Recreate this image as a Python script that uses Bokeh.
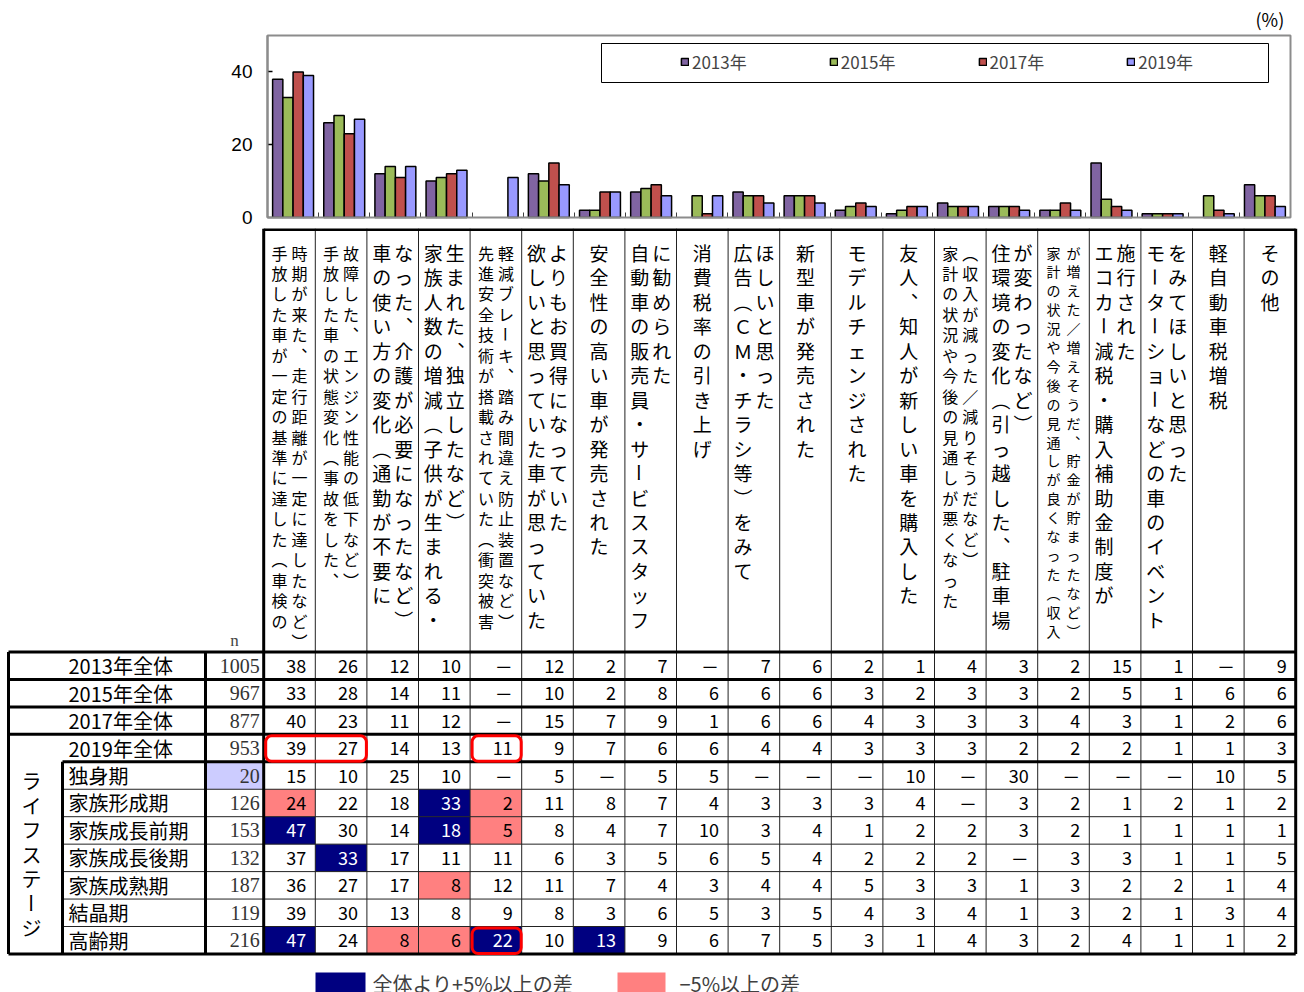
import math
from bokeh.plotting import figure
from bokeh.models import Range1d, FixedTicker, Legend, LegendItem, BoxAnnotation, Label
from bokeh.layouts import column
from bokeh.core.properties import value
from bokeh.embed import file_html
from bokeh.resources import INLINE

JP = "Noto Sans CJK JP"
SERIF = "Liberation Serif"
SANS = "Liberation Sans"

# ---------------- data ----------------
years = ["2013年", "2015年", "2017年", "2019年"]
year_colors = ["#8064A2", "#9BBB59", "#C0504D", "#9999FF"]

cat_lines = [
    ["手放した車が一定の基準に達した（車検の", "時期が来た、走行距離が一定に達したなど）"],
    ["手放した車の状態変化（事故をした、", "故障した、エンジン性能の低下など）"],
    ["車の使い方の変化（通勤が不要に", "なった、介護が必要になったなど）"],
    ["家族人数の増減（子供が生まれる・", "生まれた、独立したなど）"],
    ["先進安全技術が搭載されていた（衝突被害", "軽減ブレーキ、踏み間違え防止装置など）"],
    ["欲しいと思っていた車が思っていた", "よりもお買得になっていた"],
    ["安全性の高い車が発売された"],
    ["自動車の販売員・サービススタッフ", "に勧められた"],
    ["消費税率の引き上げ"],
    ["広告（ＣＭ・チラシ等）をみて", "ほしいと思った"],
    ["新型車が発売された"],
    ["モデルチェンジされた"],
    ["友人、知人が新しい車を購入した"],
    ["家計の状況や今後の見通しが悪くなった", "（収入が減った／減りそうだなど）"],
    ["住環境の変化（引っ越した、駐車場", "が変わったなど）"],
    ["家計の状況や今後の見通しが良くなった（収入", "が増えた／増えそうだ、貯金が貯まったなど）"],
    ["エコカー減税・購入補助金制度が", "施行された"],
    ["モーターショーなどの車のイベント", "をみてほしいと思った"],
    ["軽自動車税増税"],
    ["その他"],
]

v2013 = [38, 26, 12, 10, None, 12, 2, 7, None, 7, 6, 2, 1, 4, 3, 2, 15, 1, None, 9]
v2015 = [33, 28, 14, 11, None, 10, 2, 8, 6, 6, 6, 3, 2, 3, 3, 2, 5, 1, 6, 6]
v2017 = [40, 23, 11, 12, None, 15, 7, 9, 1, 6, 6, 4, 3, 3, 3, 4, 3, 1, 2, 6]
v2019 = [39, 27, 14, 13, 11, 9, 7, 6, 6, 4, 4, 3, 3, 3, 2, 2, 2, 1, 1, 3]

tanshin = [15, 10, 25, 10, None, 5, None, 5, 5, None, None, None, 10, None, 30, None, None, None, 10, 5]
keisei = [24, 22, 18, 33, 2, 11, 8, 7, 4, 3, 3, 3, 4, None, 3, 2, 1, 2, 1, 2]
zenki = [47, 30, 14, 18, 5, 8, 4, 7, 10, 3, 4, 1, 2, 2, 3, 2, 1, 1, 1, 1]
kouki = [37, 33, 17, 11, 11, 6, 3, 5, 6, 5, 4, 2, 2, 2, None, 3, 3, 1, 1, 5]
jukuki = [36, 27, 17, 8, 12, 11, 7, 4, 3, 4, 4, 5, 3, 3, 1, 3, 2, 2, 1, 4]
kesshou = [39, 30, 13, 8, 9, 8, 3, 6, 5, 3, 5, 4, 3, 4, 1, 3, 2, 1, 3, 4]
koureiki = [47, 24, 8, 6, 22, 10, 13, 9, 6, 7, 5, 3, 1, 4, 3, 2, 4, 1, 1, 2]

row_labels = ["2013年全体", "2015年全体", "2017年全体", "2019年全体",
              "独身期", "家族形成期", "家族成長前期", "家族成長後期", "家族成熟期", "結晶期", "高齢期"]
row_n = [1005, 967, 877, 953, 20, 126, 153, 132, 187, 119, 216]
row_values = [v2013, v2015, v2017, v2019, tanshin, keisei, zenki, kouki, jukuki, kesshou, koureiki]

stage_title = "ライフステージ"

# significance marks: (row, column, "+" above / "-" below overall)
highlights = [("家族形成期", 0, "-"), ("家族形成期", 3, "+"), ("家族形成期", 4, "-"),
              ("家族成長前期", 0, "+"), ("家族成長前期", 3, "+"), ("家族成長前期", 4, "-"),
              ("家族成長後期", 1, "+"), ("家族成熟期", 3, "-"),
              ("高齢期", 0, "+"), ("高齢期", 2, "-"), ("高齢期", 3, "-"), ("高齢期", 4, "+"), ("高齢期", 6, "+")]
small_sample = ["独身期"]
emphasis = [("2019年全体", 0, 2), ("2019年全体", 4, 1), ("高齢期", 4, 1)]

legend_plus = "全体より+5%以上の差"
legend_minus = "−5%以上の差"
y_ticks = [0, 20, 40]

# ---------------- styles ----------------
cat_style = ["S", "S", "L", "L", "S", "L", "L", "L", "L", "L",
             "L", "L", "L", "S", "L", "XS", "L", "L", "L", "L"]
style_spec = {"L": (19, 24.45, 11), "S": (16, 20.45, 10), "XS": (14, 18.9, 10)}
NAVY = "#000080"
PINK = "#FF8080"
LAVENDER = "#CCCCFF"

W = 1300
TOP_H = 228

# ---------------- chart ----------------
FL, FR, FT, FB = 267, 1290, 35, 217
NCAT = len(cat_lines)
YMAX = 50


def fx(px):
    return (px - FL) / (FR - FL) * NCAT


def fy(py):
    return (FB - py) / (FB - FT) * YMAX


p1 = figure(width=W, height=TOP_H, x_range=Range1d(fx(0), fx(W)), y_range=Range1d(fy(TOP_H), fy(0)),
            output_backend="svg", toolbar_location=None, min_border=0)
p1.xgrid.visible = False
p1.ygrid.visible = False
p1.outline_line_color = None
p1.background_fill_color = "white"
p1.border_fill_color = "white"

p1.yaxis.fixed_location = 0
p1.yaxis.bounds = (0, YMAX)
p1.yaxis.ticker = FixedTicker(ticks=y_ticks)
p1.yaxis.major_tick_in = 5
p1.yaxis.major_tick_out = 0
p1.yaxis.minor_tick_line_color = None
p1.yaxis.axis_line_color = "black"
p1.yaxis.axis_line_width = 1.5
p1.yaxis.major_tick_line_width = 1.5
p1.yaxis.major_label_text_font = SANS
p1.yaxis.major_label_text_font_size = "19px"
p1.yaxis.major_label_text_color = "black"
p1.yaxis.major_label_standoff = 15

p1.xaxis.fixed_location = 0
p1.xaxis.bounds = (0, NCAT)
p1.xaxis.ticker = FixedTicker(ticks=list(range(1, NCAT)))
p1.xaxis.major_label_overrides = {i: "" for i in range(1, NCAT)}
p1.xaxis.major_tick_in = 5
p1.xaxis.major_tick_out = 0
p1.xaxis.minor_tick_line_color = None
p1.xaxis.axis_line_color = "#404040"
p1.xaxis.major_tick_line_color = "#404040"

renderers = []
for k, (vals, col) in enumerate(zip([v2013, v2015, v2017, v2019], year_colors)):
    xs = [i + 0.2 * (k + 1) for i, v in enumerate(vals) if v is not None]
    tops = [v for v in vals if v is not None]
    r = p1.vbar(x=xs, top=tops, width=0.2, fill_color=col, line_color="black", line_width=1.5)
    renderers.append(r)

# chart frame (grey)
p1.add_layout(BoxAnnotation(left=0, right=NCAT, bottom=0, top=YMAX, fill_alpha=0,
                            line_color="#8C8C8C", line_width=2, line_alpha=1))

legend_box = BoxAnnotation(left=fx(601), right=fx(1268), top=fy(43), bottom=fy(82),
                           fill_alpha=0, line_color="black", line_width=1, line_alpha=1)
p1.add_layout(legend_box)

legend = Legend(items=[LegendItem(label=y, renderers=[r]) for y, r in zip(years, renderers)],
                orientation="horizontal", location=(680, TOP_H - 74), padding=0, margin=0,
                spacing=82, glyph_width=9, glyph_height=9, label_standoff=3,
                label_text_font=JP, label_text_font_size="17px", label_height=9,
                border_line_alpha=0, background_fill_alpha=0)
p1.add_layout(legend)

p1.add_layout(Label(x=fx(1255), y=fy(18), text="(%)", text_font=JP, text_font_size="18px",
                    text_baseline="middle", text_align="left", text_color="black"))

# ---------------- table ----------------
COL0, COL_W = 263.2, 51.6
R0, ROW_H = 651.5, 27.45
NLEFT, STLEFT, OUTL = 205, 62, 8
HEAD_TOP = TOP_H
BOTTOM = 992
NROW = len(row_labels)
cols = [COL0 + COL_W * j for j in range(NCAT + 1)]
rows = [R0 + ROW_H * i for i in range(NROW + 1)]
RIGHT = cols[-1]

p2 = figure(width=W, height=BOTTOM - HEAD_TOP, x_range=Range1d(0, W), y_range=Range1d(BOTTOM, HEAD_TOP),
            x_axis_location=None, y_axis_location=None, min_border=0,
            output_backend="svg", toolbar_location=None)
p2.outline_line_color = None
p2.grid.visible = False
p2.background_fill_color = "white"
p2.border_fill_color = "white"

# cell fills
fl, fr, ft, fb, fc = [], [], [], [], []
for (rl, cj, kind) in highlights:
    i = row_labels.index(rl)
    fl.append(cols[cj]); fr.append(cols[cj + 1]); ft.append(rows[i]); fb.append(rows[i + 1])
    fc.append(NAVY if kind == "+" else PINK)
for rl in small_sample:
    i = row_labels.index(rl)
    fl.append(NLEFT); fr.append(cols[0]); ft.append(rows[i]); fb.append(rows[i + 1]); fc.append(LAVENDER)
p2.quad(left=fl, right=fr, top=ft, bottom=fb, fill_color=fc, line_color=None)

# thin lines
tx0, ty0, tx1, ty1 = [], [], [], []
for j in range(1, NCAT):
    tx0.append(cols[j]); ty0.append(HEAD_TOP); tx1.append(cols[j]); ty1.append(rows[-1])
for i in range(5, NROW):
    tx0.append(STLEFT); ty0.append(rows[i]); tx1.append(RIGHT); ty1.append(rows[i])
p2.segment(x0=tx0, y0=ty0, x1=tx1, y1=ty1, line_color="#222222", line_width=1)

# thick lines
kx0, ky0, kx1, ky1 = [], [], [], []
kx0.append(cols[0]); ky0.append(HEAD_TOP + 1); kx1.append(RIGHT); ky1.append(HEAD_TOP + 1)
for xv in (cols[0], RIGHT):
    kx0.append(xv); ky0.append(HEAD_TOP); kx1.append(xv); ky1.append(rows[-1])
for i in (0, 1, 2, 3, NROW):
    kx0.append(OUTL); ky0.append(rows[i]); kx1.append(RIGHT); ky1.append(rows[i])
kx0.append(STLEFT); ky0.append(rows[4]); kx1.append(RIGHT); ky1.append(rows[4])
kx0.append(OUTL); ky0.append(rows[0]); kx1.append(OUTL); ky1.append(rows[-1])
kx0.append(NLEFT); ky0.append(rows[0]); kx1.append(NLEFT); ky1.append(rows[-1])
kx0.append(STLEFT); ky0.append(rows[4]); kx1.append(STLEFT); ky1.append(rows[-1])
p2.segment(x0=kx0, y0=ky0, x1=kx1, y1=ky1, line_color="black", line_width=3)

# vertical header text
VMAP = {"（": "︵", "）": "︶", "、": "︑"}
groups = {}
for j, lines in enumerate(cat_lines):
    fs, step, half = style_spec[cat_style[j]]
    cx = (cols[j] + cols[j + 1]) / 2
    n = len(lines)
    g = groups.setdefault(fs, {"x": [], "y": [], "t": [], "a": []})
    for li, line in enumerate(lines):
        x = cx if n == 1 else cx + (2 * li - 1) * half
        for k, ch in enumerate(line):
            g["x"].append(x)
            g["y"].append(252 + k * step)
            g["t"].append(VMAP.get(ch, ch))
            g["a"].append(-math.pi / 2 if ch == "ー" else 0.0)
for fs, g in groups.items():
    p2.text(x=g["x"], y=g["y"], text=g["t"], angle=g["a"], text_font=value(JP),
            text_font_size=f"{fs}px", text_align="center", text_baseline="middle", text_color="black")

# n header
p2.text(x=[234], y=[640], text=["n"], text_font=value(SERIF), text_font_size="17px",
        text_align="center", text_baseline="middle", text_color="#444444")

# row labels
centers = [(rows[i] + rows[i + 1]) / 2 for i in range(NROW)]
p2.text(x=[68] * NROW, y=centers, text=row_labels, text_font=value(JP), text_font_size="20px",
        text_align="left", text_baseline="middle", text_color="black")

# stage title vertical
sx, sy, st, sa = [], [], [], []
for k, ch in enumerate(stage_title):
    sx.append(31); sy.append(780 + k * 24.5); st.append(ch)
    sa.append(-math.pi / 2 if ch == "ー" else 0.0)
p2.text(x=sx, y=sy, text=st, angle=sa, text_font=value(JP), text_font_size="20px",
        text_align="center", text_baseline="middle", text_color="black")

# n values
p2.text(x=[cols[0] - 4] * NROW, y=centers, text=[str(v) for v in row_n], text_font=value(SERIF),
        text_font_size="20px", text_align="right", text_baseline="middle", text_color="#333333")

# data values
hl_map = {(row_labels.index(rl), cj): kind for rl, cj, kind in highlights}
vx, vy, vt, vc = [], [], [], []
for i, vals in enumerate(row_values):
    for j, v in enumerate(vals):
        vx.append(cols[j + 1] - 9)
        vy.append(centers[i])
        vt.append("－" if v is None else str(v))
        vc.append("white" if hl_map.get((i, j)) == "+" else "black")
p2.text(x=vx, y=vy, text=vt, text_color=vc, text_font=value(JP), text_font_size="18px",
        text_align="right", text_baseline="middle")

# emphasis boxes
for rl, cj, span in emphasis:
    i = row_labels.index(rl)
    p2.add_layout(BoxAnnotation(left=cols[cj] + 2, right=cols[cj + span] - 0.5,
                                top=rows[i] + 1.5, bottom=rows[i + 1] - 0.5,
                                fill_alpha=0, line_color="#FF0000", line_width=3, line_alpha=1,
                                border_radius=6))

# bottom legend
p2.quad(left=[315, 617], right=[365, 665], top=[972, 972], bottom=[BOTTOM, BOTTOM],
        fill_color=[NAVY, PINK], line_color=None)
p2.text(x=[372, 679], y=[983, 983], text=[legend_plus, legend_minus], text_font=value(JP),
        text_font_size="20px", text_align="left", text_baseline="middle", text_color="#404040")

layout = column(p1, p2, spacing=0)
open("out.html", "w").write(file_html(layout, INLINE))
